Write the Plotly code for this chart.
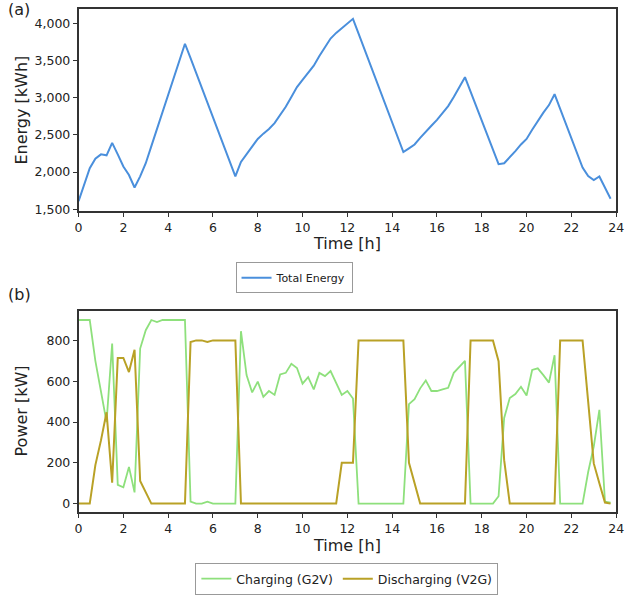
import plotly.graph_objects as go

# ---------------- data ----------------
hours = [i * 0.25 for i in range(96)]

energy_kwh = [
    1606, 1827, 2053, 2181, 2239, 2226, 2394, 2239, 2075, 1960, 1792, 1942,
    2119, 2350, 2580, 2810, 3040, 3270, 3500, 3730, 3535, 3335, 3135, 2935,
    2737, 2537, 2337, 2140, 1942, 2137, 2239, 2330, 2447, 2518, 2580, 2659,
    2770, 2880, 3013, 3146, 3243, 3345, 3434, 3566, 3677, 3800, 3876, 3942,
    4009, 4066, 3866, 3666, 3467, 3268, 3068, 2869, 2669, 2470, 2270, 2320,
    2372, 2460, 2549, 2624, 2704, 2792, 2889, 3013, 3146, 3279, 3083, 2888,
    2692, 2497, 2301, 2106, 2119, 2195, 2283, 2372, 2447, 2571, 2695, 2801,
    2903, 3050, 2852, 2654, 2456, 2258, 2060, 1945, 1892, 1940, 1790, 1640,
]

charging_kw = [
    900, 900, 900, 700, 550, 400, 785, 92, 80, 180, 55, 760, 850, 900, 890, 900, 900, 900, 900, 900,
    10, 0, 0, 10, 0, 0, 0, 0, 0,
    845, 630, 545, 598, 523, 552, 533, 633, 641, 685, 665, 588, 620, 560, 641, 625, 650, 593, 533, 552, 515,
    0, 0, 0, 0, 0, 0, 0, 0, 0,
    488, 512, 565, 604, 552, 552, 560, 568, 641, 673, 700,
    0, 0, 0, 0, 0,
    36, 420, 518, 537, 573, 530, 655, 663, 630, 593, 727,
    0, 0, 0, 0, 0,
    155, 280, 460, 10, 5,
]

discharging_kw = [
    0, 0, 0, 189, 310, 448, 103, 714, 714, 645, 754, 111, 52, 0, 0, 0, 0, 0, 0, 0,
    792, 800, 800, 792, 800, 800, 800, 800, 800,
    0, 0, 0, 0, 0, 0, 0, 0, 0, 0, 0, 0, 0, 0, 0, 0, 0, 0, 200, 200, 200,
    800, 800, 800, 800, 800, 800, 800, 800, 800,
    200, 100, 0, 0, 0, 0, 0, 0, 0, 0, 0,
    800, 800, 800, 800, 800,
    698, 213, 0, 0, 0, 0, 0, 0, 0, 0, 0,
    800, 800, 800, 800, 800,
    500, 197, 100, 5, 0,
]

x_ticks = list(range(0, 25, 2))
energy_ticks = [1500, 2000, 2500, 3000, 3500, 4000]
power_ticks = [0, 200, 400, 600, 800]

# ---------------- figure ----------------
W, H = 633, 595
FONT = "DejaVu Sans"
BLUE = "#4A8FDC"
GREEN = "#8EE07C"
OLIVE = "#B9A126"
AX = "#333333"

fig = go.Figure()
fig.add_trace(go.Scatter(x=hours, y=energy_kwh, mode="lines", name="Total Energy",
                         line=dict(color=BLUE, width=2), xaxis="x", yaxis="y", legend="legend"))
fig.add_trace(go.Scatter(x=hours, y=charging_kw, mode="lines", name="Charging (G2V)",
                         line=dict(color=GREEN, width=1.8), xaxis="x2", yaxis="y2", legend="legend2"))
fig.add_trace(go.Scatter(x=hours, y=discharging_kw, mode="lines", name="Discharging (V2G)",
                         line=dict(color=OLIVE, width=2), xaxis="x2", yaxis="y2", legend="legend2"))

x_left, x_right = 76 / W, 624 / W

common_axis = dict(showline=True, mirror=True, linecolor=AX, linewidth=1.5,
                   showgrid=False, zeroline=False, ticks="outside", ticklen=4,
                   tickwidth=1, tickcolor=AX,
                   tickfont=dict(family=FONT, size=12.5, color="#222222"))

fig.update_layout(
    width=W, height=H,
    margin=dict(l=0, r=0, t=0, b=0),
    paper_bgcolor="white", plot_bgcolor="white",
    font=dict(family=FONT, color="#222222"),
    xaxis=dict(domain=[x_left, x_right], range=[0, 24], tickvals=x_ticks, anchor="y", **common_axis),
    yaxis=dict(domain=[1 - 213 / H, 1 - 9.5 / H], range=[1477, 4193], tickvals=energy_ticks,
               tickformat=",", anchor="x", **common_axis),
    xaxis2=dict(domain=[x_left, x_right], range=[0, 24], tickvals=x_ticks, anchor="y2", **common_axis),
    yaxis2=dict(domain=[1 - 517 / H, 1 - 314 / H], range=[-40, 945], tickvals=power_ticks,
                anchor="x2", **common_axis),
    legend=dict(x=236 / W, y=1 - 265 / H, xanchor="left", yanchor="top",
                bordercolor="#999999", borderwidth=1, bgcolor="white",
                font=dict(family=FONT, size=11, color="#222222"), itemwidth=30),
    legend2=dict(x=349.5 / W, y=1 - 569 / H, xanchor="center", yanchor="top", orientation="h",
                 bordercolor="#999999", borderwidth=1, bgcolor="white",
                 font=dict(family=FONT, size=12.5, color="#222222"), itemwidth=30),
    showlegend=True,
)

annotations = [
    dict(text="(a)", x=2 / W, y=1 - 10 / H, xanchor="left", yanchor="middle", font=dict(size=16)),
    dict(text="(b)", x=2 / W, y=1 - 297 / H, xanchor="left", yanchor="middle", font=dict(size=16)),
    dict(text="Energy [kWh]", x=18 / W, y=1 - 111 / H, textangle=-90, xanchor="center",
         yanchor="middle", font=dict(size=16)),
    dict(text="Power [kW]", x=18 / W, y=1 - 415 / H, textangle=-90, xanchor="center",
         yanchor="middle", font=dict(size=16)),
    dict(text="Time [h]", x=350 / W, y=1 - 246 / H, xanchor="center", yanchor="middle",
         font=dict(size=16)),
    dict(text="Time [h]", x=350 / W, y=1 - 551 / H, xanchor="center", yanchor="middle",
         font=dict(size=16)),
]
for a in annotations:
    a.update(xref="paper", yref="paper", showarrow=False)
    a["font"].update(family=FONT, color="#222222")
fig.update_layout(annotations=annotations)

fig.write_html("out.html")
